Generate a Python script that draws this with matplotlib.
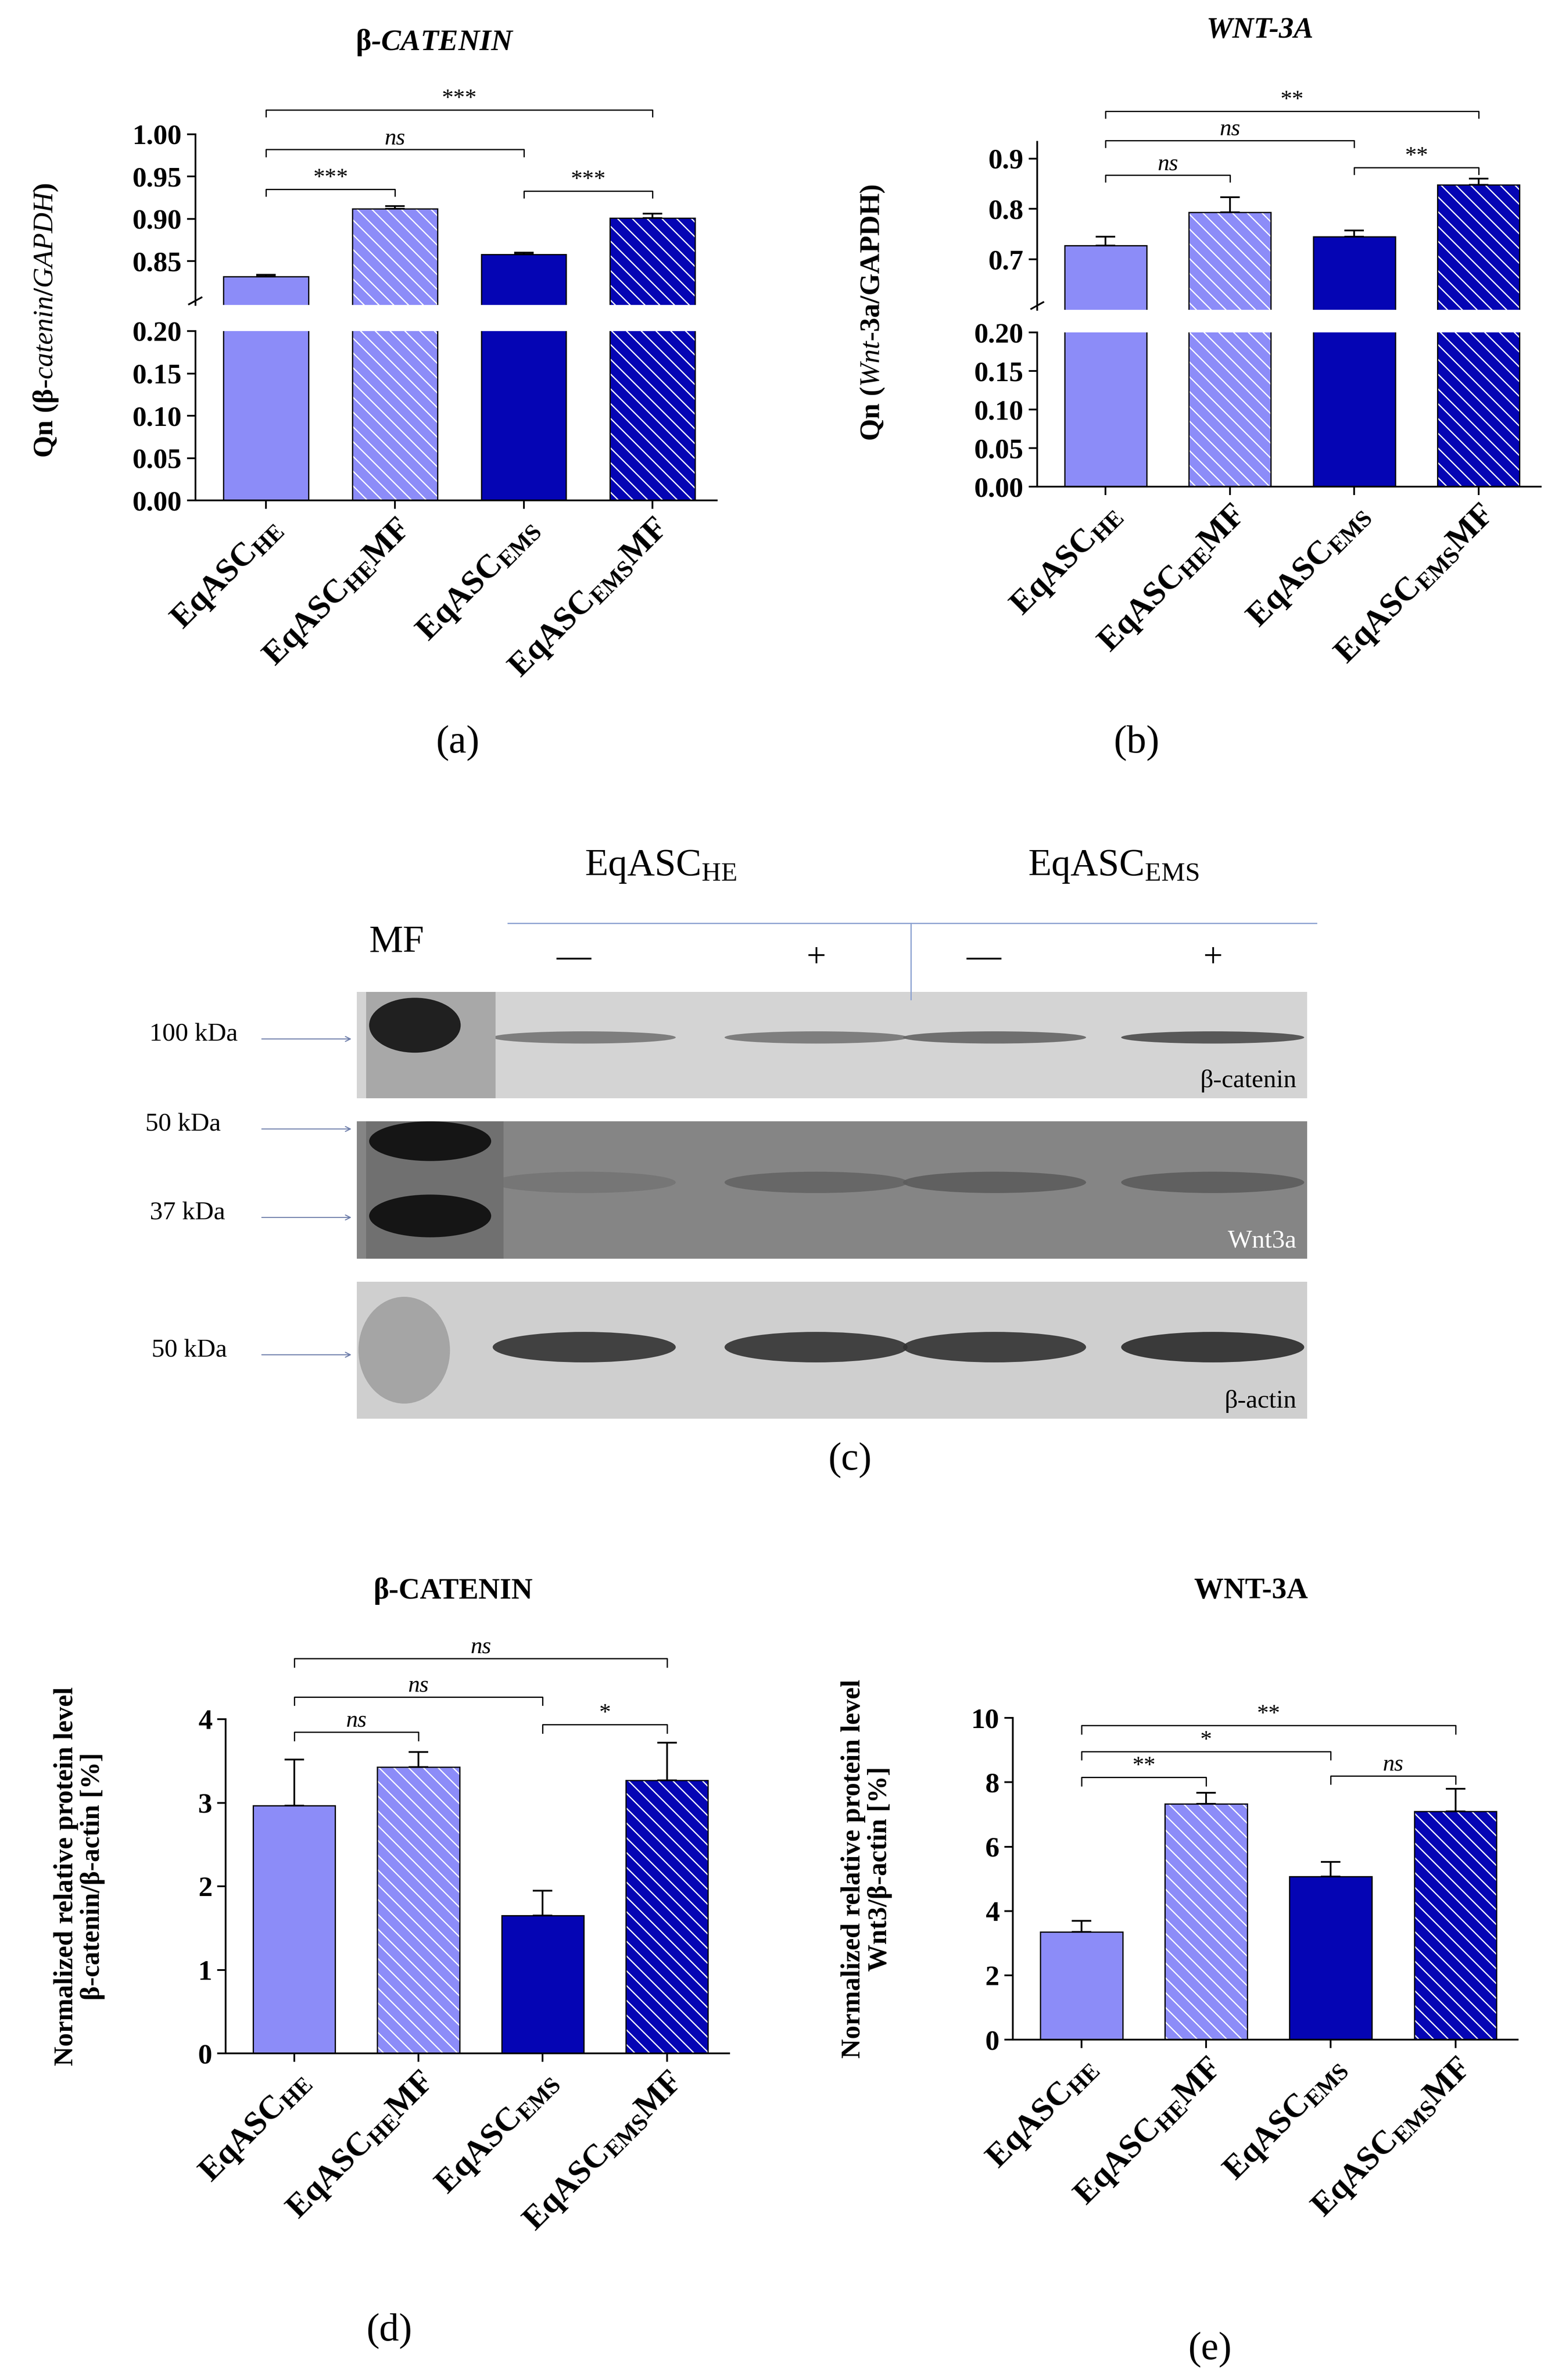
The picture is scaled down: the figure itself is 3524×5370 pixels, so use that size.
import matplotlib.pyplot as plt
import numpy as np
from matplotlib.patches import Rectangle, Ellipse

plt.rcParams['font.family'] = ['Liberation Serif', 'DejaVu Serif']
plt.rcParams['mathtext.fontset'] = 'custom'
plt.rcParams['mathtext.rm'] = 'Liberation Serif'
plt.rcParams['mathtext.it'] = 'Liberation Serif:italic'
plt.rcParams['mathtext.bf'] = 'Liberation Serif:bold'

groups = [r'EqASC$_{\mathbf{HE}}$', r'EqASC$_{\mathbf{HE}}$MF', r'EqASC$_{\mathbf{EMS}}$', r'EqASC$_{\mathbf{EMS}}$MF']

# qPCR beta-catenin
bcat_qn = [0.832, 0.912, 0.858, 0.901]
bcat_qn_err = [0.002, 0.003, 0.002, 0.005]
bcat_qn_sig = [(0, 1, 0.935, '***'), (0, 2, 0.982, 'ns'), (0, 3, 1.029, '***'), (2, 3, 0.933, '***')]
# qPCR wnt-3a
wnt_qn = [0.727, 0.793, 0.745, 0.848]
wnt_qn_err = [0.018, 0.030, 0.012, 0.012]
wnt_qn_sig = [(0, 1, 0.867, 'ns'), (0, 2, 0.936, 'ns'), (0, 3, 0.994, '**'), (2, 3, 0.882, '**')]
# western blot densitometry
bcat_wb = [2.97, 3.43, 1.65, 3.27]
bcat_wb_err = [0.55, 0.18, 0.30, 0.45]
bcat_wb_sig = [(0, 1, 3.85, 'ns'), (0, 2, 4.27, 'ns'), (0, 3, 4.73, 'ns'), (2, 3, 3.94, '*')]
wnt_wb = [3.35, 7.33, 5.07, 7.10]
wnt_wb_err = [0.35, 0.35, 0.45, 0.70]
wnt_wb_sig = [(0, 1, 8.15, '**'), (0, 2, 8.96, '*'), (0, 3, 9.76, '**'), (2, 3, 8.2, 'ns')]

# blot band intensities (0..1) for lanes HE-, HE+, EMS-, EMS+
blot_lanes_x = [383, 535, 652, 795]
bcat_band = [0.45, 0.45, 0.55, 0.7]
wnt_band = [0.45, 0.55, 0.6, 0.6]
actin_band = [0.85, 0.85, 0.85, 0.9]

LIGHT = '#8c8cf8'
DARK = '#0505b4'
colors = [LIGHT, LIGHT, DARK, DARK]
hatches = [None, '\\\\', None, '\\\\']

W, H = 1024, 1560
fig = plt.figure(figsize=(17.62, 26.85), dpi=200)


def rect(x0, x1, y0, y1):
    return [x0 / W, 1 - y1 / H, (x1 - x0) / W, (y1 - y0) / H]


def draw_bars(ax, vals, errs, err=True):
    x = np.arange(4)
    ax.bar(x, vals, width=0.66, color=colors, edgecolor='white', linewidth=0, hatch=hatches, zorder=2)
    ax.bar(x, vals, width=0.66, fill=False, edgecolor='black', linewidth=1.0, zorder=3)
    if err:
        ax.errorbar(x, vals, yerr=[np.zeros(4), errs], fmt='none', ecolor='black', capsize=8,
                    elinewidth=1.4, capthick=1.4, zorder=4)
    ax.set_xlim(-0.55, 3.5)
    ax.spines['right'].set_visible(False)
    ax.spines['top'].set_visible(False)
    for s in ax.spines.values():
        s.set_linewidth(1.4)
    ax.tick_params(width=1.4, length=7, labelsize=23, pad=4)
    for t in ax.get_yticklabels():
        t.set_fontweight('bold')


def draw_sig(ax, sig, tick, fs=19):
    for a, b, y, txt in sig:
        ax.plot([a, a, b, b], [y - tick, y, y, y - tick], color='black', lw=1.0, clip_on=False)
        style = 'italic' if txt == 'ns' else 'normal'
        ax.text((a + b) / 2, y, txt, ha='center', va='bottom', fontsize=fs, style=style, clip_on=False)


def xlabels(ax):
    ax.set_xticks(range(4))
    ax.set_xticklabels(groups, rotation=45, ha='right', rotation_mode='anchor', fontsize=27, fontweight='bold')


def bold_y(ax):
    for t in ax.get_yticklabels():
        t.set_fontweight('bold')


def broken(top_r, bot_r, ylim_top, ylim_bot, yt_top, yt_top_lbl, yt_bot, vals, errs, sig, tick_top):
    at = fig.add_axes(top_r)
    ab = fig.add_axes(bot_r)
    draw_bars(at, vals, errs)
    draw_bars(ab, vals, errs, err=False)
    at.set_ylim(*ylim_top)
    ab.set_ylim(*ylim_bot)
    at.set_yticks(yt_top)
    at.set_yticklabels(yt_top_lbl)
    ab.set_yticks(yt_bot)
    ab.set_yticklabels([f'{v:.2f}' for v in yt_bot])
    bold_y(at)
    bold_y(ab)
    at.spines['bottom'].set_visible(False)
    at.set_xticks([])
    xlabels(ab)
    kw = dict(transform=at.transAxes, color='black', clip_on=False, lw=1.4)
    at.plot([-0.012, 0.012], [0.005, 0.045], **kw)
    draw_sig(at, sig, tick_top)
    return at, ab


# (a)
broken(rect(128, 470, 88, 200), rect(128, 470, 217, 328), (0.798, 1.0), (0, 0.2),
       [0.85, 0.90, 0.95, 1.00], ['0.85', '0.90', '0.95', '1.00'], [0, 0.05, 0.10, 0.15, 0.20],
       bcat_qn, bcat_qn_err, bcat_qn_sig, 0.008)

# (b)
broken(rect(680, 1010, 93, 203), rect(680, 1010, 218, 319), (0.6, 0.933), (0, 0.2),
       [0.7, 0.8, 0.9], ['0.7', '0.8', '0.9'], [0, 0.05, 0.10, 0.15, 0.20],
       wnt_qn, wnt_qn_err, wnt_qn_sig, 0.013)

# (d)
ad = fig.add_axes(rect(148, 478, 1127, 1346))
draw_bars(ad, bcat_wb, bcat_wb_err)
ad.set_ylim(0, 4)
ad.set_yticks([0, 1, 2, 3, 4])
bold_y(ad)
xlabels(ad)
draw_sig(ad, bcat_wb_sig, 0.1)

# (e)
ae = fig.add_axes(rect(664, 995, 1126, 1337))
draw_bars(ae, wnt_wb, wnt_wb_err)
ae.set_ylim(0, 10)
ae.set_yticks([0, 2, 4, 6, 8, 10])
bold_y(ae)
xlabels(ae)
draw_sig(ae, wnt_wb_sig, 0.25)

# overlay in display-pixel coordinates
ov = fig.add_axes([0, 0, 1, 1], zorder=-1)
ov.set_xlim(0, W)
ov.set_ylim(H, 0)
ov.axis('off')

ov.text(285, 28, r'$\mathbf{\beta}$-CATENIN', ha='center', va='center', fontsize=24, fontweight='bold', style='italic')
ov.text(826, 20, 'WNT-3A', ha='center', va='center', fontsize=24, fontweight='bold', style='italic')
ov.text(297, 1043, 'β-CATENIN', ha='center', va='center', fontsize=24, fontweight='bold')
ov.text(820, 1043, 'WNT-3A', ha='center', va='center', fontsize=24, fontweight='bold')

ov.text(30, 210, r'Qn ($\mathbf{\beta}$-$\mathit{catenin}$/$\mathit{GAPDH}$)', rotation=90, ha='center', va='center',
        fontsize=23, fontweight='bold')
ov.text(572, 205, r'Qn ($\mathit{Wnt}$-3a/GAPDH)', rotation=90, ha='center', va='center',
        fontsize=23, fontweight='bold')
ov.text(52, 1230, 'Normalized relative protein level\nβ-catenin/β-actin [%]', rotation=90, ha='center',
        va='center', fontsize=22, fontweight='bold', linespacing=1.1)
ov.text(568, 1225, 'Normalized relative protein level\nWnt3/β-actin [%]', rotation=90, ha='center',
        va='center', fontsize=22, fontweight='bold', linespacing=1.1)

for lbl, x, y in [('(a)', 300, 487), ('(b)', 745, 487), ('(c)', 557, 957), ('(d)', 255, 1528), ('(e)', 793, 1540)]:
    ov.text(x, y, lbl, ha='center', va='center', fontsize=32)

# blot strips
strips = [(650, 720, '#d4d4d4', bcat_band, 680, 4, 'β-catenin'),
          (735, 825, '#858585', wnt_band, 775, 7, 'Wnt3a'),
          (840, 930, '#cfcfcf', actin_band, 883, 10, 'β-actin')]
for y0, y1, col, bands, by, bh, name in strips:
    ov.add_patch(Rectangle((234, y0), 623, y1 - y0, facecolor=col, edgecolor='none'))
    for x, inten in zip(blot_lanes_x, bands):
        g = 0.75 - 0.65 * inten
        ov.add_patch(Ellipse((x, by), 120, bh * 2, facecolor=(g, g, g), edgecolor='none', alpha=0.9))
    txtcol = 'white' if col == '#858585' else 'black'
    ov.text(850, y1 - 4, name, ha='right', va='bottom', fontsize=21, color=txtcol)
# marker lane
ov.add_patch(Rectangle((240, 650), 85, 70, facecolor='#a8a8a8', edgecolor='none'))
ov.add_patch(Ellipse((272, 672), 60, 36, facecolor='#202020', edgecolor='none'))
ov.add_patch(Rectangle((240, 735), 90, 90, facecolor='#707070', edgecolor='none'))
ov.add_patch(Ellipse((282, 748), 80, 26, facecolor='#151515', edgecolor='none'))
ov.add_patch(Ellipse((282, 797), 80, 28, facecolor='#151515', edgecolor='none'))
ov.add_patch(Ellipse((265, 885), 60, 70, facecolor='#a5a5a5', edgecolor='none'))

for txt, x, y in [('100 kDa', 127, 678), ('50 kDa', 120, 737), ('37 kDa', 123, 795), ('50 kDa', 124, 885)]:
    ov.text(x, y, txt, ha='center', va='center', fontsize=21)
    ov.annotate('', xy=(232, y + 3), xytext=(170, y + 3),
                arrowprops=dict(arrowstyle='->', color='#6a7aa8', lw=0.8))

ov.text(433, 568, r'EqASC$_{\mathrm{HE}}$', ha='center', va='center', fontsize=31)
ov.text(730, 568, r'EqASC$_{\mathrm{EMS}}$', ha='center', va='center', fontsize=31)
ov.plot([333, 863], [605, 605], color='#8aa0d0', lw=1)
ov.plot([597, 597], [605, 655], color='#8aa0d0', lw=1)
ov.text(260, 618, 'MF', ha='center', va='center', fontsize=31)
for x, s in zip(blot_lanes_x, ['—', '+', '—', '+']):
    ov.text(x - 7 if s == '—' else x, 628, s, ha='center', va='center', fontsize=28)

fig.savefig('out.png', dpi=200)
